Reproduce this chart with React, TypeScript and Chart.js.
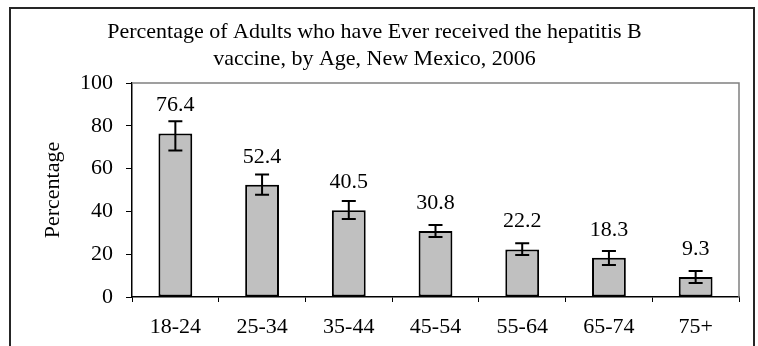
import React, { useEffect, useRef } from 'react';
import { Chart, registerables } from 'chart.js';

Chart.register(...registerables);

const categories = ['18-24', '25-34', '35-44', '45-54', '55-64', '65-74', '75+'];
const values = [76.4, 52.4, 40.5, 30.8, 22.2, 18.3, 9.3];
const ciLow = [68.4, 47.8, 36.4, 28.0, 19.6, 15.0, 6.5];
const ciHigh = [82.1, 57.2, 44.9, 33.6, 25.1, 21.5, 12.1];
const titleLines = [
  'Percentage of Adults who have Ever received the hepatitis B',
  'vaccine, by Age, New Mexico, 2006',
];
const yAxisTitle = 'Percentage';

const FONT = "'Times New Roman', 'Liberation Serif', serif";

const bgPlugin = {
  id: 'bg',
  beforeDraw(chart: any) {
    const { ctx, width, height } = chart;
    ctx.save();
    ctx.fillStyle = '#ffffff';
    ctx.fillRect(0, 0, width, height);
    ctx.restore();
  },
};

const errorBarPlugin = {
  id: 'errorBars',
  afterDatasetsDraw(chart: any) {
    const { ctx } = chart;
    const y = chart.scales.y;
    const meta = chart.getDatasetMeta(0);
    ctx.save();
    ctx.strokeStyle = '#000';
    ctx.lineWidth = 2;
    meta.data.forEach((bar: any, i: number) => {
      const x = bar.x;
      const yl = y.getPixelForValue(ciLow[i]);
      const yh = y.getPixelForValue(ciHigh[i]);
      const cap = 7;
      ctx.beginPath();
      ctx.moveTo(x, yl);
      ctx.lineTo(x, yh);
      ctx.moveTo(x - cap, yl);
      ctx.lineTo(x + cap, yl);
      ctx.moveTo(x - cap, yh);
      ctx.lineTo(x + cap, yh);
      ctx.stroke();
    });
    ctx.restore();
  },
};

const labelPlugin = {
  id: 'valueLabels',
  afterDatasetsDraw(chart: any) {
    const { ctx } = chart;
    const meta = chart.getDatasetMeta(0);
    ctx.save();
    ctx.fillStyle = '#000';
    ctx.font = `22px ${FONT}`;
    ctx.textAlign = 'center';
    ctx.textBaseline = 'middle';
    meta.data.forEach((bar: any, i: number) => {
      ctx.fillText(values[i].toFixed(1), bar.x, bar.y - 28);
    });
    ctx.restore();
  },
};

const framePlugin = {
  id: 'frame',
  afterDraw(chart: any) {
    const { ctx, chartArea } = chart;
    ctx.save();
    ctx.strokeStyle = '#808080';
    ctx.lineWidth = 1.5;
    ctx.beginPath();
    ctx.moveTo(chartArea.left, chartArea.top);
    ctx.lineTo(chartArea.right, chartArea.top);
    ctx.lineTo(chartArea.right, chartArea.bottom);
    ctx.stroke();
    ctx.strokeStyle = '#262626';
    ctx.lineWidth = 2;
    ctx.strokeRect(10, 8, 744, 400);
    ctx.restore();
  },
};

export default function App() {
  const ref = useRef<HTMLCanvasElement>(null);
  useEffect(() => {
    document.body.style.margin = '0';
    const font = { family: FONT, size: 22, weight: 'normal' as const };
    const chart = new Chart(ref.current!, {
      type: 'bar',
      data: {
        labels: categories,
        datasets: [
          {
            data: values,
            backgroundColor: '#c0c0c0',
            borderColor: '#000',
            borderWidth: 2,
            borderSkipped: false,
            barPercentage: 0.39,
            categoryPercentage: 1,
          },
        ],
      },
      options: {
        animation: false,
        responsive: false,
        devicePixelRatio: 1,
        layout: { padding: { left: 10, right: 19, top: 8, bottom: 0 } },
        plugins: {
          legend: { display: false },
          tooltip: { enabled: false },
          title: {
            display: true,
            text: titleLines,
            color: '#000',
            font: { family: FONT, size: 22, weight: 'normal', lineHeight: 1.25 },
            padding: { top: 10, bottom: 10 },
          },
        },
        scales: {
          x: {
            grid: { drawOnChartArea: false, drawTicks: true, tickLength: 5, color: '#000', offset: true },
            border: { color: '#000', width: 1.5 },
            ticks: { font, color: '#000', padding: 12, maxRotation: 0, autoSkip: false },
            afterFit: (s: any) => {
              s.height = 49;
            },
          },
          y: {
            min: 0,
            max: 100,
            ticks: { stepSize: 20, font, color: '#000', padding: 13 },
            grid: { drawOnChartArea: false, tickLength: 6, color: '#000' },
            border: { color: '#000', width: 1.5 },
            title: {
              display: true,
              text: yAxisTitle,
              color: '#000',
              font,
              padding: { top: 30, bottom: 0 },
            },
            afterFit: (s: any) => {
              s.width = 122;
            },
          },
        },
      },
      plugins: [bgPlugin, errorBarPlugin, labelPlugin, framePlugin],
    });
    return () => chart.destroy();
  }, []);
  return (
    <div style={{ width: 758, height: 346 }}>
      <canvas ref={ref} width={758} height={346} style={{ display: 'block' }} />
    </div>
  );
}
